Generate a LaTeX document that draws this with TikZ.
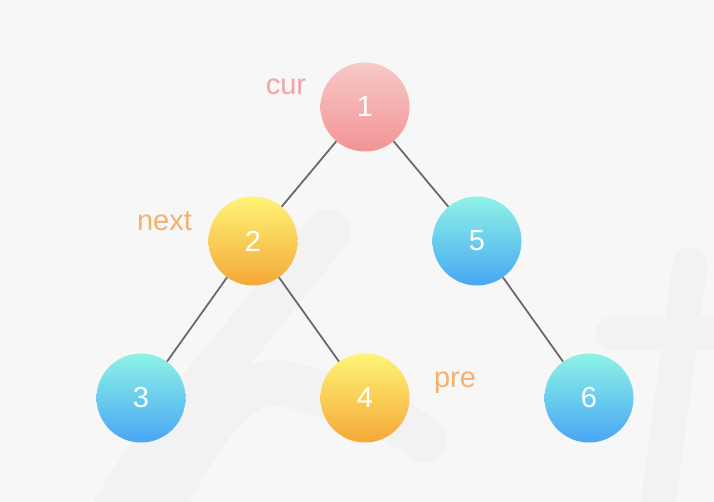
\documentclass[tikz,border=0pt]{standalone}
\usepackage{fontspec}
\setmainfont{Liberation Sans}
\definecolor{bg}{HTML}{F7F7F7}
\definecolor{wm}{HTML}{F2F2F2}
\definecolor{edgec}{HTML}{6A6A6A}
\definecolor{pinkT}{HTML}{F8C8C8}
\definecolor{pinkB}{HTML}{F29494}
\definecolor{yelT}{HTML}{FFF476}
\definecolor{yelB}{HTML}{F4A838}
\definecolor{bluT}{HTML}{8EF3E6}
\definecolor{bluB}{HTML}{48A6F4}
\definecolor{curc}{HTML}{F4A2A2}
\definecolor{lblc}{HTML}{F5B16E}
\tikzset{
  tnode/.style={circle, minimum size=89pt, inner sep=0pt, text=white,
    font=\fontsize{29}{29}\selectfont, shading=axis, shading angle=0},
  pinknode/.style={tnode, top color=pinkT, bottom color=pinkB},
  yelnode/.style={tnode, top color=yelT, bottom color=yelB},
  blunode/.style={tnode, top color=bluT, bottom color=bluB},
  edge/.style={draw=edgec, line width=1.8pt},
  lbl/.style={font=\fontsize{29}{29}\selectfont, inner sep=0pt, anchor=base},
  wmark/.style={draw=wm, line cap=round, line join=round}
}
\begin{document}
\begin{tikzpicture}[x=1pt,y=-1pt]
\fill[bg] (0,0) rectangle (714,502);
\useasboundingbox (0,0) rectangle (714,502);
% faint watermark
\draw[wmark, line width=45pt] (328,232) -- (273,300) .. controls (240,345) and (150,440) .. (110,520);
\draw[wmark, line width=45pt] (150,530) .. controls (200,430) and (240,370) .. (290,385) .. controls (350,400) and (400,420) .. (425,440);
\draw[wmark, line width=33pt] (612,333) -- (714,333);
\draw[wmark, line width=35pt] (690,265) -- (656,520);
% nodes
\node[pinknode] (n1) at (365,107) {1};
\node[yelnode]  (n2) at (253,241) {2};
\node[blunode]  (n5) at (477,241) {5};
\node[blunode]  (n3) at (141,398) {3};
\node[yelnode]  (n4) at (365,398) {4};
\node[blunode]  (n6) at (589,398) {6};
% edges
\draw[edge] (n1) -- (n2);
\draw[edge] (n1) -- (n5);
\draw[edge] (n2) -- (n3);
\draw[edge] (n2) -- (n4);
\draw[edge] (n5) -- (n6);
% labels
\node[lbl, text=curc] (lcur) at (286,95) {cur};
\node[lbl, text=lblc] (lnext) at (164.5,230.5) {next};
\node[lbl, text=lblc] (lpre) at (455,387) {pre};
\end{tikzpicture}
\end{document}
